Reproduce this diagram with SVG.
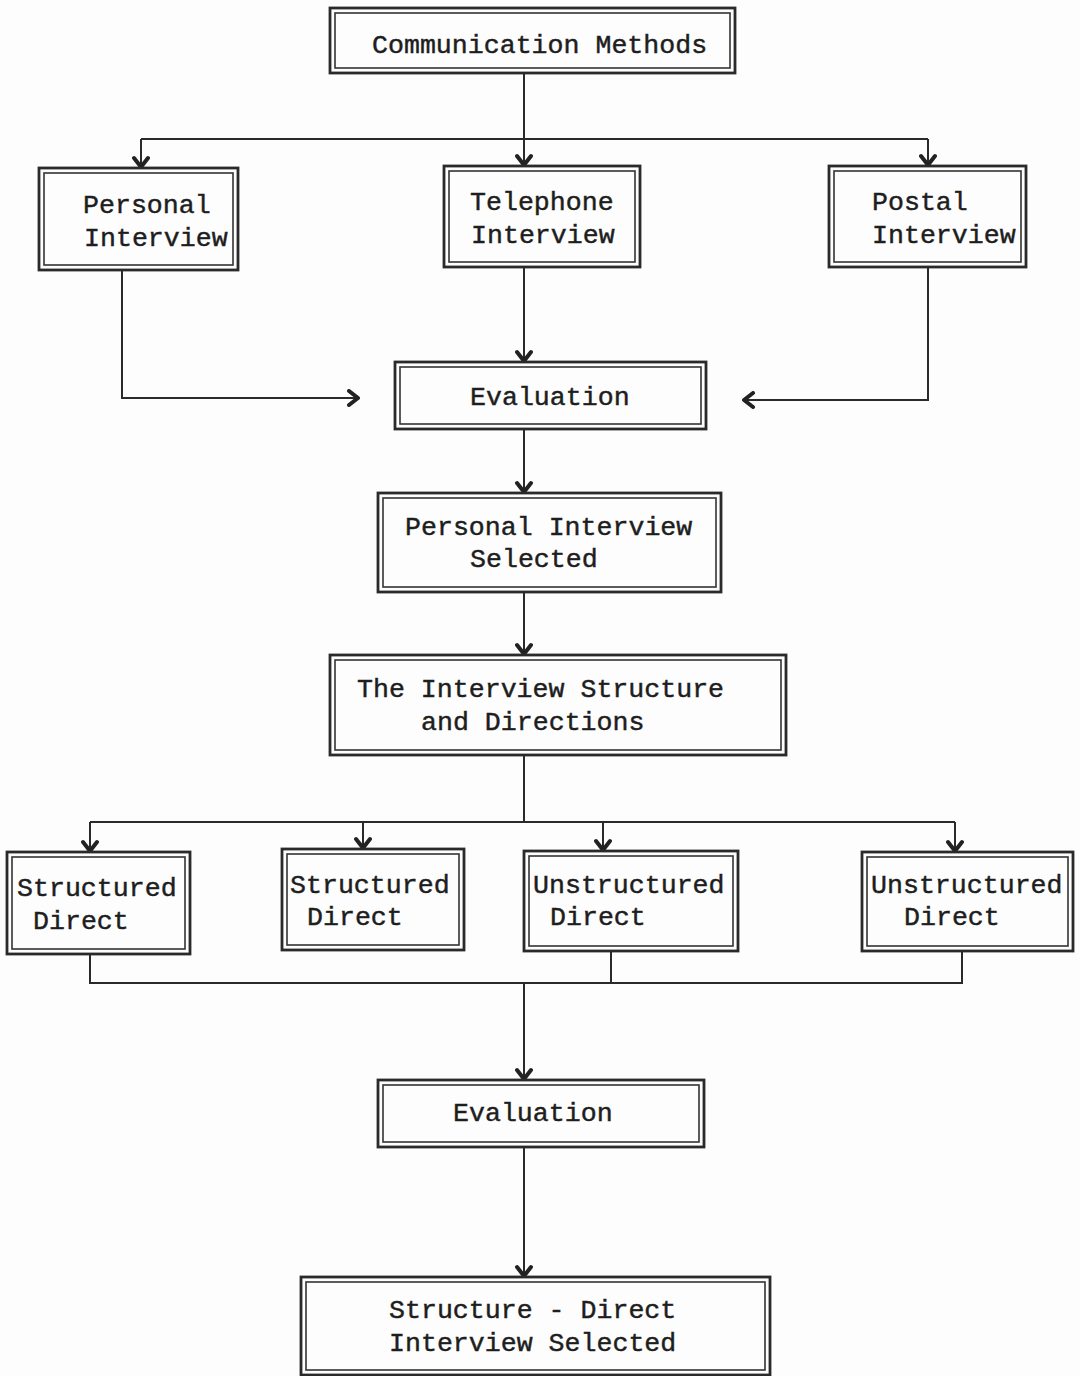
<svg xmlns="http://www.w3.org/2000/svg" width="1080" height="1376" viewBox="0 0 1080 1376">
<style>
.o{fill:none;stroke:#2a2a2a;stroke-width:2.8}
.i{fill:none;stroke:#333;stroke-width:1.6}
.t{font-family:"Liberation Mono","Courier New",monospace;font-size:26.6px;fill:#1e1e1e;stroke:#1e1e1e;stroke-width:0.45}
.c{fill:none;stroke:#2a2a2a;stroke-width:2}
</style>
<defs>
<marker id="ah" markerWidth="18" markerHeight="18" viewBox="-12 -9 14 18" refX="0" refY="0" orient="auto" markerUnits="userSpaceOnUse">
<path d="M-9,-7 L0,0 L-9,7" fill="none" stroke="#222" stroke-width="4" stroke-linecap="round" stroke-linejoin="round"/>
</marker>
</defs>
<rect width="1080" height="1376" fill="#fdfdfd"/>

<g id="connectors">
<path class="c" d="M524,73 V139 M141,139 H928"/>
<path class="c" d="M141,139 V167" marker-end="url(#ah)"/>
<path class="c" d="M524,139 V165" marker-end="url(#ah)"/>
<path class="c" d="M928,139 V165" marker-end="url(#ah)"/>
<path class="c" d="M122,270 V398 H358" marker-end="url(#ah)"/>
<path class="c" d="M524,267 V361" marker-end="url(#ah)"/>
<path class="c" d="M928,267 V400 H744" marker-end="url(#ah)"/>
<path class="c" d="M524,428 V492" marker-end="url(#ah)"/>
<path class="c" d="M524,592 V654" marker-end="url(#ah)"/>
<path class="c" d="M524,755 V822 M90,822 H955"/>
<path class="c" d="M90,822 V851" marker-end="url(#ah)"/>
<path class="c" d="M363,822 V848" marker-end="url(#ah)"/>
<path class="c" d="M603,822 V850" marker-end="url(#ah)"/>
<path class="c" d="M955,822 V851" marker-end="url(#ah)"/>
<path class="c" d="M90,954 V983 H962 V951 M611,951 V983"/>
<path class="c" d="M524,983 V1079" marker-end="url(#ah)"/>
<path class="c" d="M524,1147 V1276" marker-end="url(#ah)"/>
</g>

<g id="n-communication">
<rect class="o" x="330" y="8" width="405" height="65"/>
<rect class="i" x="335" y="13" width="395" height="55"/>
<text class="t" x="372" y="53">Communication Methods</text>
</g>

<g id="n-personal">
<rect class="o" x="39" y="168" width="199" height="102"/>
<rect class="i" x="44" y="173" width="189" height="92"/>
<text class="t" x="83" y="213">Personal</text>
<text class="t" x="84" y="246">Interview</text>
</g>

<g id="n-telephone">
<rect class="o" x="444" y="166" width="196" height="101"/>
<rect class="i" x="449" y="171" width="186" height="91"/>
<text class="t" x="470" y="210">Telephone</text>
<text class="t" x="471" y="243">Interview</text>
</g>

<g id="n-postal">
<rect class="o" x="829" y="166" width="197" height="101"/>
<rect class="i" x="834" y="171" width="187" height="91"/>
<text class="t" x="872" y="210">Postal</text>
<text class="t" x="872" y="243">Interview</text>
</g>

<g id="n-evaluation1">
<rect class="o" x="395" y="362" width="311" height="67"/>
<rect class="i" x="400" y="367" width="301" height="57"/>
<text class="t" x="470" y="405">Evaluation</text>
</g>

<g id="n-personal-selected">
<rect class="o" x="378" y="493" width="343" height="99"/>
<rect class="i" x="383" y="498" width="333" height="89"/>
<text class="t" x="405" y="535">Personal Interview</text>
<text class="t" x="470" y="567">Selected</text>
</g>

<g id="n-structure">
<rect class="o" x="330" y="655" width="456" height="100"/>
<rect class="i" x="335" y="660" width="446" height="90"/>
<text class="t" x="357" y="697">The Interview Structure</text>
<text class="t" x="421" y="730">and Directions</text>
</g>

<g id="n-structured1">
<rect class="o" x="7" y="852" width="183" height="102"/>
<rect class="i" x="12" y="857" width="173" height="92"/>
<text class="t" x="17" y="896">Structured</text>
<text class="t" x="33" y="929">Direct</text>
</g>

<g id="n-structured2">
<rect class="o" x="282" y="849" width="182" height="101"/>
<rect class="i" x="287" y="854" width="172" height="91"/>
<text class="t" x="290" y="893">Structured</text>
<text class="t" x="307" y="925">Direct</text>
</g>

<g id="n-unstructured1">
<rect class="o" x="524" y="851" width="214" height="100"/>
<rect class="i" x="529" y="856" width="204" height="90"/>
<text class="t" x="533" y="893">Unstructured</text>
<text class="t" x="550" y="925">Direct</text>
</g>

<g id="n-unstructured2">
<rect class="o" x="862" y="852" width="211" height="99"/>
<rect class="i" x="867" y="857" width="201" height="89"/>
<text class="t" x="871" y="893">Unstructured</text>
<text class="t" x="904" y="925">Direct</text>
</g>

<g id="n-evaluation2">
<rect class="o" x="378" y="1080" width="326" height="67"/>
<rect class="i" x="383" y="1085" width="316" height="57"/>
<text class="t" x="453" y="1121">Evaluation</text>
</g>

<g id="n-final">
<rect class="o" x="301" y="1277" width="469" height="98"/>
<rect class="i" x="306" y="1282" width="459" height="88"/>
<text class="t" x="389" y="1318">Structure - Direct</text>
<text class="t" x="389" y="1351">Interview Selected</text>
</g>
</svg>
